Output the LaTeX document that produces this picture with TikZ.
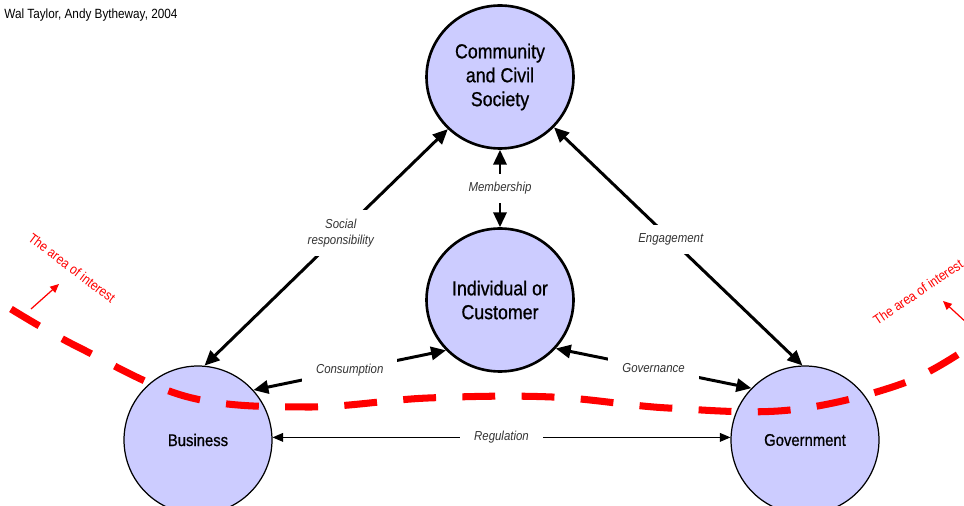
\documentclass[tikz,border=0pt]{standalone}
\usepackage{fontspec}
\setmainfont{Liberation Sans}
\newfontfamily\narrow[FakeStretch=0.88]{Liberation Sans}
\newfontfamily\narrowmed[FakeStretch=0.88,FakeBold=0.8]{Liberation Sans}
\usetikzlibrary{arrows.meta,shapes.geometric}
\definecolor{lavender}{RGB}{204,204,255}

\begin{document}
\begin{tikzpicture}[x=0.02cm, y=-0.02cm,
    party/.style={draw, ellipse, fill=lavender, align=center, inner sep=0pt},
    core/.style={party, line width=1.5pt, minimum width=2.94cm, minimum height=2.86cm, font=\narrowmed\fontsize{11.5}{13.6}\selectfont},
    sector/.style={party, line width=0.7pt, minimum size=2.96cm, font=\narrowmed\fontsize{9.6}{11.5}\selectfont},
    link/.style={<->, >={Triangle[length=8.5pt, width=7.5pt]}, line width=1.7pt},
    thinlink/.style={<->, >={Triangle[length=6pt, width=5pt]}, line width=0.6pt},
    tag/.style={fill=white, inner xsep=8pt, inner ysep=5pt, align=center, text=black!80, font=\narrow\itshape\fontsize{7.4}{9}\selectfont},
    interest/.style={red, inner sep=0pt, font=\narrow\fontsize{7.8}{9}\selectfont},
    pointer/.style={-{Triangle[length=5pt, width=4.5pt]}, red, line width=0.7pt}
]
\useasboundingbox (0,0) rectangle (964,506);

% Credit
\node[anchor=west, inner sep=0pt, font=\narrow\fontsize{7.6}{9}\selectfont] (credit) at (4,15) {Wal Taylor, Andy Bytheway, 2004};

% Parties
\node[core] (community) at (500,77) {Community\\and Civil\\Society};
\node[core] (individual) at (500,300) {Individual or\\Customer};
\node[sector] (business) at (198,440) {Business};
\node[sector] (government) at (805,440) {Government};

% Relations
\draw[link] (business.85) -- node[tag, pos=0.56] {Social\\responsibility} (community.225);
\draw[link] (community.317) -- node[tag, pos=0.47] {Engagement} (government.92);
\draw[link] (community.south) -- node[tag] {Membership} (individual.north);
\draw[link] (business.42) -- node[tag] {Consumption} (individual.223);
\draw[link] (individual.319) -- node[tag] {Governance} (government.136);
\draw[thinlink] (business.2) -- node[tag] {Regulation} (government.178);

% The area of interest
\draw[red, line width=4pt, dash pattern=on 18.7pt off 15pt]
    plot[smooth, tension=0.6] coordinates {(11,309) (78,347) (188,397) (308,407) (428,398) (552,397) (668,408) (790,410) (904,383) (975,343)};

\coordinate (lefttail) at (31,309);
\coordinate (lefthead) at (59,284);
\coordinate (righttail) at (968,324);
\coordinate (righthead) at (943,301);
\draw[pointer] (lefttail) -- (lefthead);
\draw[pointer] (righttail) -- (righthead);

\node[interest, rotate=-37] (leftarea) at (72,268) {The area of interest};
\node[interest, rotate=34] (rightarea) at (918,292) {The area of interest};

\end{tikzpicture}
\end{document}
